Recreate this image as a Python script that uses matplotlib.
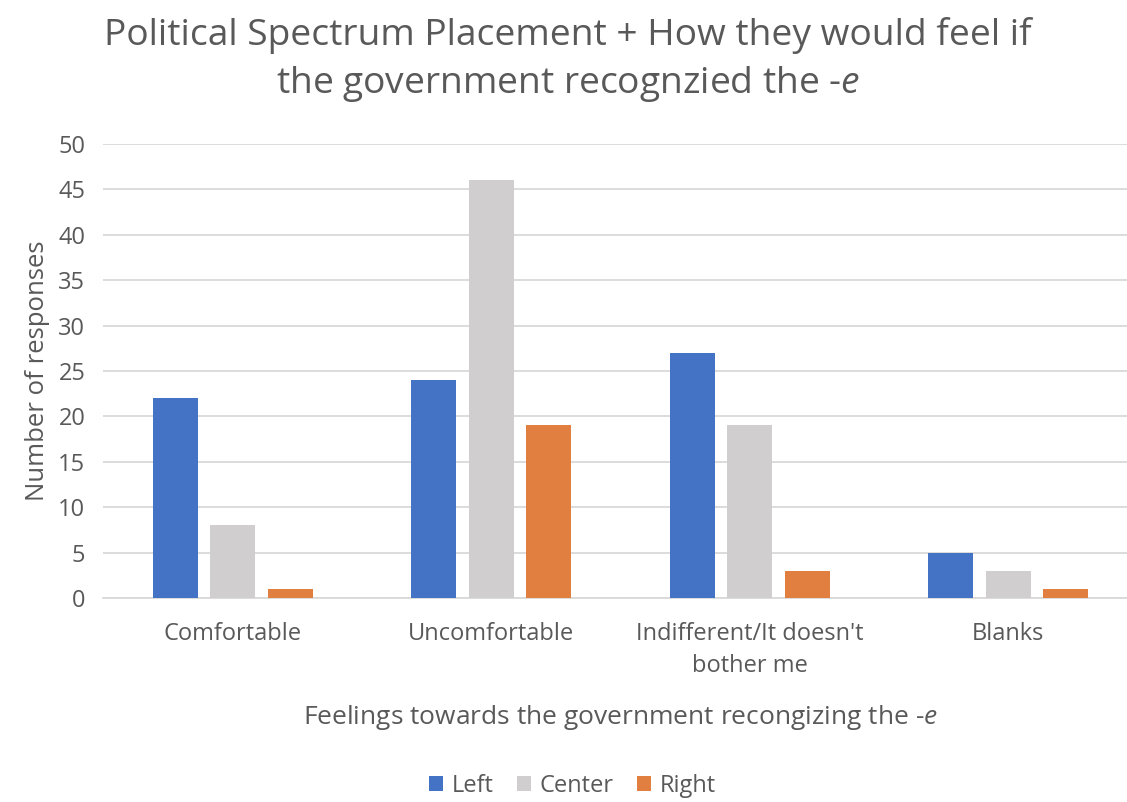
import numpy as np
import matplotlib.pyplot as plt

plt.rcParams['font.family'] = ['Open Sans', 'DejaVu Sans']
plt.rcParams['mathtext.fontset'] = 'custom'
plt.rcParams['mathtext.rm'] = 'Open Sans'
plt.rcParams['mathtext.it'] = 'Open Sans:italic'

categories = ['Comfortable', 'Uncomfortable', "Indifferent/It doesn't\nbother me", 'Blanks']
left = [22, 24, 27, 5]
center = [8, 46, 19, 3]
right = [1, 19, 3, 1]
series_names = ['Left', 'Center', 'Right']
colors = ['#4472C4', '#D0CECE', '#E07F3F']
text_color = '#595959'

fig = plt.figure(figsize=(11.27, 8.02), dpi=100)
# plot area runs a bit past the right edge, as in the reference
ax = fig.add_axes([0.0918, 0.2544, 0.9175, 0.566])

x = np.arange(len(categories))
width = 0.174
step = 0.222
for i, (vals, name) in enumerate(zip([left, center, right], series_names)):
    ax.bar(x + (i - 1) * step, vals, width, color=colors[i], label=name, zorder=3)

ax.set_xlim(-0.5, len(categories) - 0.5)
ax.set_ylim(0, 50)
ax.set_yticks(range(0, 51, 5))
ax.yaxis.grid(True, color='#D9D9D9', linewidth=1.3, zorder=0)
for s in ['top', 'right', 'left']:
    ax.spines[s].set_visible(False)
ax.spines['bottom'].set_color('#D9D9D9')
ax.spines['bottom'].set_linewidth(1.3)
ax.tick_params(axis='both', length=0, colors=text_color, labelsize=17)
ax.tick_params(axis='x', pad=17)
ax.tick_params(axis='y', pad=13)
ax.set_xticks(x)
ax.set_xticklabels(categories, linespacing=1.45)

ax.set_ylabel('Number of responses', fontsize=18.5, color=text_color, labelpad=6)
ax.set_xlabel('Feelings towards the government recongizing the -$\\it{e}$',
              fontsize=19, color=text_color, labelpad=18)

fig.text(0.504, 0.956, 'Political Spectrum Placement + How they would feel if',
         ha='center', va='center', fontsize=26.7, color=text_color)
fig.text(0.504, 0.895, 'the government recognzied the -$\\it{e}$',
         ha='center', va='center', fontsize=26.7, color=text_color)

leg = fig.legend(loc='center', bbox_to_anchor=(0.508, 0.02), ncol=3, frameon=False,
                 fontsize=17, handlelength=0.6, handleheight=0.6, handletextpad=0.35,
                 columnspacing=1.0, borderpad=0.2)
for t in leg.get_texts():
    t.set_color(text_color)

fig.savefig('out.png', dpi=100)
